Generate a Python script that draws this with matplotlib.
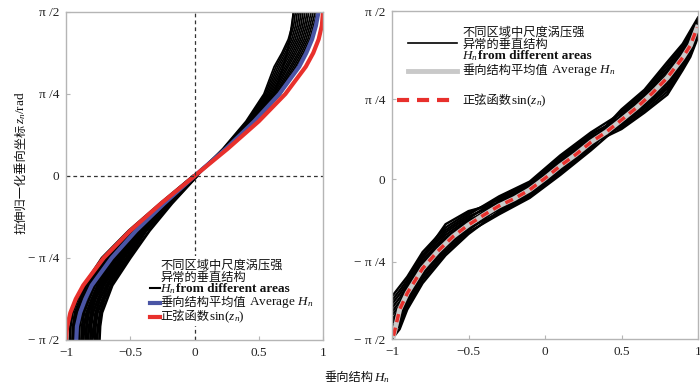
import numpy as np
import matplotlib
matplotlib.use("Agg")
import matplotlib.pyplot as plt
from matplotlib.offsetbox import TextArea, HPacker, AnnotationBbox
from matplotlib.lines import Line2D
from matplotlib.patches import Rectangle

plt.rcParams['font.family'] = ['Liberation Serif', 'Noto Sans CJK SC']
plt.rcParams['mathtext.fontset'] = 'custom'
plt.rcParams['mathtext.it'] = 'Liberation Serif:italic'
plt.rcParams['mathtext.rm'] = 'Liberation Serif'

# ---------------- data: left panel (z in units of pi/12) ----------------
left_z_k = [-6, -5.5, -5, -4.5, -4, -3, -2, -1, 0, 1, 2, 3, 4, 4.5, 5, 5.5, 6]
left_sin = [-1.0, -0.991, -0.966, -0.924, -0.866, -0.707, -0.5, -0.259, 0.0,
            0.259, 0.5, 0.707, 0.866, 0.924, 0.966, 0.991, 1.0]
left_avg = [-0.92, -0.915, -0.89, -0.85, -0.80, -0.645, -0.455, -0.235, 0.0,
            0.245, 0.465, 0.66, 0.815, 0.87, 0.915, 0.945, 0.965]
left_black = [
    [-0.97, -0.965, -0.95, -0.91, -0.86, -0.72, -0.51, -0.265, -0.01, 0.25, 0.48, 0.67, 0.80, 0.86, 0.91, 0.94, 0.97],
    [-0.95, -0.945, -0.93, -0.89, -0.845, -0.70, -0.50, -0.258, -0.008, 0.239, 0.45, 0.62, 0.73, 0.79, 0.84, 0.87, 0.89],
    [-0.935, -0.93, -0.915, -0.875, -0.825, -0.685, -0.49, -0.25, -0.005, 0.231, 0.426, 0.58, 0.676, 0.734, 0.784, 0.814, 0.83],
    [-0.915, -0.91, -0.895, -0.855, -0.81, -0.665, -0.475, -0.245, -0.003, 0.245, 0.468, 0.65, 0.772, 0.832, 0.882, 0.912, 0.94],
    [-0.90, -0.895, -0.875, -0.84, -0.79, -0.65, -0.465, -0.238, 0.0, 0.225, 0.408, 0.55, 0.634, 0.692, 0.742, 0.772, 0.785],
    [-0.88, -0.875, -0.86, -0.82, -0.775, -0.63, -0.455, -0.23, 0.002, 0.235, 0.438, 0.60, 0.705, 0.762, 0.812, 0.842, 0.86],
    [-0.865, -0.86, -0.84, -0.80, -0.755, -0.615, -0.445, -0.225, 0.005, 0.243, 0.462, 0.64, 0.758, 0.818, 0.868, 0.898, 0.924],
    [-0.845, -0.84, -0.825, -0.785, -0.74, -0.60, -0.43, -0.218, 0.007, 0.229, 0.42, 0.57, 0.662, 0.72, 0.77, 0.80, 0.815],
    [-0.83, -0.82, -0.805, -0.77, -0.72, -0.58, -0.42, -0.21, 0.01, 0.248, 0.474, 0.66, 0.786, 0.846, 0.896, 0.926, 0.955],
    [-0.81, -0.805, -0.79, -0.75, -0.705, -0.565, -0.41, -0.205, 0.012, 0.22, 0.40, 0.54, 0.62, 0.68, 0.73, 0.76, 0.77],
    [-0.795, -0.785, -0.77, -0.735, -0.685, -0.55, -0.40, -0.198, 0.014, 0.237, 0.444, 0.61, 0.718, 0.776, 0.826, 0.856, 0.876],
    [-0.775, -0.77, -0.755, -0.715, -0.67, -0.53, -0.385, -0.19, 0.016, 0.241, 0.456, 0.63, 0.745, 0.805, 0.854, 0.884, 0.908],
    [-0.76, -0.75, -0.735, -0.70, -0.65, -0.515, -0.375, -0.183, 0.018, 0.227, 0.414, 0.56, 0.648, 0.706, 0.756, 0.786, 0.80],
    [-0.74, -0.735, -0.72, -0.68, -0.64, -0.50, -0.35, -0.175, 0.02, 0.233, 0.432, 0.59, 0.69, 0.748, 0.798, 0.828, 0.845],
    [-0.845, -0.84, -0.825, -0.785, -0.74, -0.60, -0.43, -0.218, 0.007, 0.24, 0.47, 0.62, 0.69, 0.72, 0.74, 0.755, 0.77],
]

# ---------------- data: right panel (z in units of pi) ----------------
right_line_H = [-0.99, -0.95, -0.9, -0.8, -0.7, -0.6, -0.5, -0.4, -0.3, -0.2, -0.1, 0.0,
                0.1, 0.2, 0.3, 0.4, 0.5, 0.6, 0.7, 0.8, 0.9, 0.95, 0.995]
right_sin_z = [-0.49, -0.41, -0.36, -0.285, -0.232, -0.187, -0.152, -0.122, -0.094, -0.072,
               -0.045, -0.01, 0.028, 0.062, 0.10, 0.131, 0.168, 0.206, 0.249, 0.297, 0.358,
               0.395, 0.45]
right_avg_z = [-0.49, -0.41, -0.36, -0.285, -0.232, -0.187, -0.152, -0.122, -0.094, -0.072,
               -0.045, -0.01, 0.028, 0.062, 0.10, 0.131, 0.168, 0.206, 0.249, 0.297, 0.358,
               0.395, 0.45]
right_black_H = [-1.0, -0.95, -0.9, -0.8, -0.65, -0.5, -0.3, -0.1, 0.1, 0.3, 0.5, 0.65,
                 0.8, 0.9, 0.95, 1.0]
right_black_z = [
    [-0.5, -0.47, -0.41, -0.33, -0.245, -0.18, -0.110, -0.061, 0.011, 0.085, 0.167, 0.222, 0.29, 0.356, 0.396, 0.447],
    [-0.488, -0.458, -0.401, -0.321, -0.237, -0.174, -0.12, -0.07, 0.0, 0.075, 0.156, 0.209, 0.272, 0.342, 0.382, 0.436],
    [-0.477, -0.447, -0.392, -0.313, -0.230, -0.168, -0.100, -0.052, 0.022, 0.095, 0.14, 0.19, 0.245, 0.32, 0.36, 0.42],
    [-0.465, -0.435, -0.383, -0.304, -0.222, -0.162, -0.115, -0.066, 0.005, 0.080, 0.184, 0.241, 0.318, 0.378, 0.418, 0.464],
    [-0.453, -0.423, -0.374, -0.296, -0.214, -0.157, -0.090, -0.043, 0.033, 0.105, 0.151, 0.203, 0.263, 0.334, 0.374, 0.431],
    [-0.441, -0.411, -0.365, -0.287, -0.207, -0.151, -0.105, -0.057, 0.016, 0.090, 0.195, 0.254, 0.336, 0.393, 0.433, 0.475],
    [-0.428, -0.398, -0.355, -0.278, -0.198, -0.144, -0.080, -0.034, 0.044, 0.115, 0.162, 0.215, 0.281, 0.349, 0.389, 0.442],
    [-0.417, -0.387, -0.346, -0.269, -0.191, -0.138, -0.095, -0.048, 0.027, 0.100, 0.20, 0.26, 0.345, 0.40, 0.44, 0.48],
    [-0.405, -0.375, -0.337, -0.261, -0.183, -0.133, -0.070, -0.025, 0.055, 0.125, 0.173, 0.229, 0.30, 0.364, 0.404, 0.453],
    [-0.393, -0.363, -0.328, -0.252, -0.175, -0.127, -0.085, -0.038, 0.038, 0.110, 0.145, 0.196, 0.254, 0.327, 0.367, 0.425],
    [-0.382, -0.352, -0.319, -0.244, -0.168, -0.121, -0.065, -0.02, 0.06, 0.13, 0.189, 0.247, 0.327, 0.386, 0.426, 0.469],
    [-0.37, -0.34, -0.31, -0.235, -0.16, -0.115, -0.075, -0.029, 0.049, 0.120, 0.178, 0.235, 0.309, 0.371, 0.411, 0.458],
    [-0.45, -0.40, -0.33, -0.25, -0.15, -0.11, -0.085, -0.05, 0.01, 0.09, 0.16, 0.21, 0.27, 0.35, 0.39, 0.44],
]

x_ticks = [-1, -0.5, 0, 0.5, 1]
x_ticklabels = ['−1', '−0.5', '0', '0.5', '1']
left_yticks_pi = [-0.5, -0.25, 0.0, 0.25, 0.5]
right_yticks_pi = [-0.5, -0.2652, -0.0122, 0.2317, 0.5]
y_ticklabels = ['− π /2', '− π /4', '0', 'π /4', 'π /2']

RED = '#e8302c'
BLUE = '#4a55a5'
GRAY = '#c9c9c9'
SPINE = '#b5b5b5'

W, H = 700, 384
fig = plt.figure(figsize=(7, 3.84), dpi=100)


def fx(px):
    return px / W


def fy(py):
    return 1 - py / H


axL = fig.add_axes([fx(66), fy(340), fx(323) - fx(66), fy(12) - fy(340)])
axR = fig.add_axes([fx(392), fy(339), fx(698) - fx(392), fy(11) - fy(339)])

# left panel (lower half drawn heavier, upper half thinner, as in the source)
zL = np.array(left_z_k) * np.pi / 12
mid = left_z_k.index(0)
for h in left_black:
    axL.plot(h[:mid + 1], zL[:mid + 1], color='black', lw=2.0)
    axL.plot(h[mid:], zL[mid:], color='black', lw=1.3)
axL.plot(left_avg, zL, color=BLUE, lw=3)
axL.plot(left_sin, zL, color=RED, lw=3)
axL.axvline(0, color='#333333', lw=0.9, dashes=(3, 2.5))
axL.axhline(0, color='#333333', lw=0.9, dashes=(3, 2.5))

# right panel
for zz in right_black_z:
    axR.plot(right_black_H, np.array(zz) * np.pi, color='black', lw=1.7)
axR.plot(right_line_H, np.array(right_avg_z) * np.pi, color=GRAY, lw=3.6)
axR.plot(right_line_H, np.array(right_sin_z) * np.pi, color=RED, lw=2.5, dashes=(2.4, 1.6))

for ax, yt in ((axL, left_yticks_pi), (axR, right_yticks_pi)):
    ax.set_xlim(-1, 1)
    ax.set_ylim(-np.pi / 2, np.pi / 2)
    ax.set_xticks(x_ticks)
    ax.set_xticklabels(x_ticklabels)
    ax.set_yticks(np.array(yt) * np.pi)
    ax.set_yticklabels(y_ticklabels)
    ax.tick_params(direction='in', length=3, color=SPINE, labelsize=9.5, pad=5,
                   labelcolor='#222222')
    for s in ax.spines.values():
        s.set_color(SPINE)
        s.set_linewidth(1.0)

CJK = dict(family=['Noto Sans CJK SC'], size=8.8, color='#111111')
LAT = dict(family=['Liberation Serif'], size=9.5, color='#111111')
LATB = dict(family=['Liberation Serif'], size=9.5, weight='bold', color='#111111')


def rich(parts, px, py, align=(0, 0.5)):
    box = HPacker(children=[TextArea(t, textprops=p) for t, p in parts],
                  align='baseline', pad=0, sep=0)
    ab = AnnotationBbox(box, (px, H - py), xycoords='figure pixels',
                        box_alignment=align, frameon=False, pad=0, zorder=5)
    fig.add_artist(ab)


def handle(x0, x1, py, **kw):
    fig.add_artist(Line2D([fx(x0), fx(x1)], [fy(py), fy(py)],
                          transform=fig.transFigure, zorder=5, **kw))


# left legend
fig.add_artist(Rectangle((fx(148), fy(326)), fx(320) - fx(148), fy(256) - fy(326),
                         transform=fig.transFigure, facecolor='white',
                         edgecolor='none', zorder=4))
rich([('不同区域中尺度涡压强', CJK)], 160, 265)
rich([('异常的垂直结构', CJK)], 160, 277)
rich([('$H_n$', LAT), ('from different areas', LATB)], 160, 289)
rich([('垂向结构平均值', CJK), (' Average $H_n$', LAT)], 160, 303)
rich([('正弦函数', CJK), ('sin($z_n$)', LAT)], 160, 317)
handle(150, 160, 288, color='black', lw=1.5)
handle(150, 160, 303, color=BLUE, lw=3)
handle(150, 160, 317, color=RED, lw=3)

# right legend
rich([('不同区域中尺度涡压强', CJK)], 462, 32)
rich([('异常的垂直结构', CJK)], 462, 44)
rich([('$H_n$', LAT), ('from different areas', LATB)], 462, 56)
rich([('垂向结构平均值', CJK), (' Average $H_n$', LAT)], 462, 71)
rich([('正弦函数', CJK), ('sin($z_n$)', LAT)], 462, 101)
handle(408, 457, 43, color='black', lw=1.2)
handle(408, 457, 71, color=GRAY, lw=3.5)
handle(397, 457, 100, color=RED, lw=3, dashes=(2.9, 1.9))

# x label
rich([('垂向结构', CJK), ('$H_n$', LAT)], 357, 378, align=(0.5, 0.5))

# y label (two rotated pieces)
t1 = fig.text(fx(21), fy(234), '拉伸归一化垂向坐标', rotation=90, ha='center',
              va='bottom', **CJK)
fig.canvas.draw()
bb = t1.get_window_extent(fig.canvas.get_renderer())
fig.text(fx(21), bb.y1 / H, '$z_n$/rad', rotation=90, ha='center', va='bottom', **LAT)

fig.savefig('out.png', dpi=100)
